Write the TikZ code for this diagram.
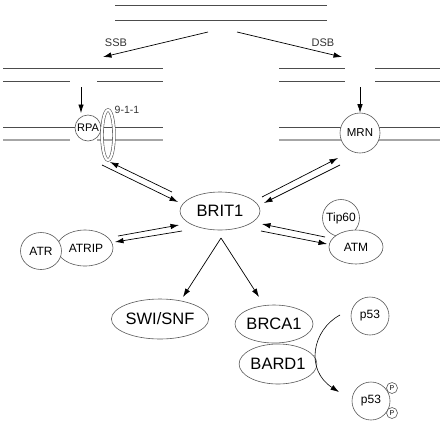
\documentclass[tikz,border=0pt]{standalone}
\usepackage{fontspec}
\setmainfont{Liberation Sans}
\usetikzlibrary{shapes.geometric,arrows.meta}
\begin{document}
\begin{tikzpicture}[x=1pt,y=-1pt,
  dnaA/.style={draw=black!70,line width=0.8pt},
  dnaB/.style={draw=black!35,line width=1.5pt},
  mol/.style={draw=black!65,line width=0.6pt,fill=white,inner sep=0pt,font=\fontsize{12}{13}\selectfont},
  big/.style={mol,ellipse,font=\fontsize{16.5}{18}\selectfont},
  small/.style={mol,ellipse,font=\fontsize{12}{13}\selectfont},
  circ/.style={mol,circle},
  arr/.style={draw=black,line width=0.7pt,-{Latex[length=8.5pt,width=5.5pt]}},
  lbl/.style={inner sep=0pt,text=black!80,font=\fontsize{11}{12}\selectfont}]
\useasboundingbox (0,0) rectangle (443,426);
% intact DNA
\draw[dnaA] (115,5) -- (327,5);
\draw[dnaA] (115,20) -- (327,20);
% left broken DNA (SSB)
\draw[dnaA] (3,68) -- (163,68);
\draw[dnaA] (3,81) -- (70,81);
\draw[dnaA] (97,81) -- (163,81);
% right broken DNA (DSB)
\draw[dnaA] (279,68) -- (345,68);
\draw[dnaA] (375,68) -- (440,68);
\draw[dnaA] (279,81) -- (345,81);
\draw[dnaA] (375,81) -- (440,81);
% lower DNA left
\draw[dnaA] (3,127) -- (163,127);
\draw[dnaB] (3,140) -- (70,140);
\draw[dnaB] (97,140) -- (163,140);
% lower DNA right
\draw[dnaA] (279,127) -- (440,127);
\draw[dnaB] (279,140) -- (440,140);
% SSB / DSB arrows
\coordinate (ssbS) at (208,32);
\coordinate (ssbE) at (103,57);
\coordinate (dsbS) at (237,32);
\coordinate (dsbE) at (342,57);
\draw[arr] (ssbS) -- (ssbE);
\draw[arr] (dsbS) -- (dsbE);
\node[lbl] (ssb) at (116,43) {SSB};
\node[lbl] (dsb) at (323,43) {DSB};
% proteins on DNA
\node[circ,minimum size=26pt,font=\fontsize{11}{12}\selectfont] (rpa) at (88,128) {RPA};
\node[draw=black!65,ellipse,line width=0.6pt,double,double distance=2.2pt,minimum width=12pt,minimum height=50pt,inner sep=0pt] (ring) at (108,135) {};
\node[lbl,font=\fontsize{10.5}{12}\selectfont] (l911) at (127,110) {9-1-1};
\node[circ,minimum size=40pt,font=\fontsize{11.5}{12}\selectfont] (mrn) at (360,133) {MRN};
\coordinate (rpaIn) at (81,87);
\coordinate (rpaTip) at (81,113);
\coordinate (mrnIn) at (360,87);
\draw[arr] (rpaIn) -- (rpaTip);
\draw[arr] (mrnIn) -- (mrn);
% BRIT1
\node[big,minimum width=80pt,minimum height=38pt] (brit) at (220,211) {BRIT1};
% ATR / ATRIP
\node[small,minimum width=56pt,minimum height=36pt] (atrip) at (85,248) {\hspace*{2pt}ATRIP};
\node[small,minimum width=41pt,minimum height=37pt] (atr) at (41,251) {ATR};
% Tip60 / ATM
\node[circ,minimum size=37pt] (tip) at (341,218) {Tip60};
\node[small,minimum width=54pt,minimum height=34pt] (atm) at (356,247) {ATM};
% bottom
\node[big,minimum width=80pt,minimum height=40pt] (swi) at (160,319) {SWI/SNF};
\node[big,minimum width=66pt,minimum height=40pt] (bard) at (278,364) {BARD1};
\node[big,minimum width=78pt,minimum height=38pt] (brca) at (274,324) {BRCA1};
\node[circ,minimum size=38pt] (p53a) at (370,316) {p53};
\node[circ,minimum size=38pt] (p53b) at (371,401) {p53};
\node[circ,minimum size=11pt,font=\fontsize{7}{8}\selectfont] (pA) at (392,388) {P};
\node[circ,minimum size=11pt,font=\fontsize{7}{8}\selectfont] (pB) at (392,413) {P};
% arrow pairs RPA/9-1-1 <-> BRIT1
\coordinate (r1s) at (102,165); \coordinate (r1e) at (178,202);
\coordinate (r2s) at (172,192); \coordinate (r2e) at (110,162);
\draw[arr] (r1s) -- (r1e);
\draw[arr] (r2s) -- (r2e);
% MRN <-> BRIT1
\coordinate (m1s) at (262,197); \coordinate (m1e) at (338,158);
\coordinate (m2s) at (340,165); \coordinate (m2e) at (264,203);
\draw[arr] (m1s) -- (m1e);
\draw[arr] (m2s) -- (m2e);
% ATRIP <-> BRIT1
\coordinate (a1s) at (118,236); \coordinate (a1e) at (179,225);
\coordinate (a2s) at (182,231); \coordinate (a2e) at (115,242);
\draw[arr] (a1s) -- (a1e);
\draw[arr] (a2s) -- (a2e);
% ATM <-> BRIT1
\coordinate (t1s) at (325,237); \coordinate (t1e) at (262,224);
\coordinate (t2s) at (261,231); \coordinate (t2e) at (327,244);
\draw[arr] (t1s) -- (t1e);
\draw[arr] (t2s) -- (t2e);
% BRIT1 down
\coordinate (bd) at (221,238);
\coordinate (swiE) at (183,297);
\coordinate (brcaE) at (259,297);
\draw[arr] (bd) -- (swiE);
\draw[arr] (bd) -- (brcaE);
% p53 phosphorylation
\coordinate (pcS) at (340,315);
\coordinate (pcE) at (339,392);
\draw[arr,line width=0.6pt] (pcS) .. controls (312,330) and (305,370) .. (pcE);
\end{tikzpicture}
\end{document}
